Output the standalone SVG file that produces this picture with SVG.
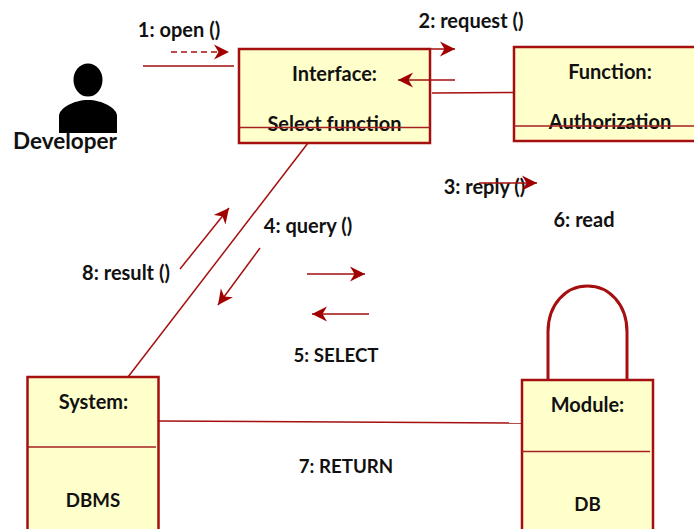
<svg xmlns="http://www.w3.org/2000/svg" width="694" height="529" viewBox="0 0 694 529">
<style>
.box{fill:#ffffcc;stroke:#a50f0f;stroke-width:2.5}
.div{stroke:#a52020;stroke-width:1.6;fill:none}
.ln{stroke:#a50f0f;stroke-width:1.5;fill:none}
.ah{fill:#a00000;stroke:none}
text{font-family:Lato,"Open Sans","Liberation Sans",sans-serif;font-weight:700;font-size:20px;fill:#111;text-anchor:middle}
.caps{font-size:18.700px}
</style>
<defs>
<marker id="arr" markerUnits="userSpaceOnUse" markerWidth="16" markerHeight="16" viewBox="0 0 16 16" refX="15" refY="8" orient="auto"><path class="ah" d="M0 0.5L15 8L0 15.5L4.5 8Z"/></marker>
</defs>
<rect width="694" height="529" fill="#fff"/>
<g id="developer">
<ellipse cx="88" cy="80" rx="14.500" ry="16.500" fill="#000"/>
<path d="M59 133V116C59 108 74 100 88 100C102 100 117 108 117 116V133Z" fill="#000"/>
<text x="65" y="149" style="font-size:22.500px">Developer</text>
</g>
<g id="interface">
<rect class="box" x="239" y="49" width="191" height="94"/>
<text x="334.500" y="81">Interface:</text>
<text x="334.500" y="131">Select function</text>
<path class="div" d="M239 127.500H430"/>
</g>
<g id="function">
<rect class="box" x="514" y="47" width="190" height="94"/>
<text x="610" y="79">Function:</text>
<text x="610" y="129">Authorization</text>
<path class="div" d="M514 126H694"/>
</g>
<g id="system">
<rect class="box" x="27.500" y="377" width="131" height="160"/>
<path class="div" d="M28 447H156"/>
<text x="93.500" y="409">System:</text>
<text class="caps" x="93" y="507">DBMS</text>
</g>
<g id="module">
<rect class="box" x="522" y="380" width="131" height="160"/>
<path class="div" d="M522 451.500H650"/>
<text x="587.500" y="412">Module:</text>
<text class="caps" x="587.500" y="511">DB</text>
</g>
<g id="labels">
<text x="179" y="37">1: open ()</text>
<text x="471" y="28">2: request ()</text>
<text x="484.500" y="194">3: reply ()</text>
<text x="308" y="233">4: query ()</text>
<text class="caps" x="336" y="362">5: SELECT</text>
<text x="584" y="227">6: read</text>
<text class="caps" x="346" y="473">7: RETURN</text>
<text x="126" y="280">8: result ()</text>
</g>
<g id="connectors">
<path class="ln" d="M143 66H234"/>
<path class="ln" d="M171 52H229" stroke-dasharray="6 4" marker-end="url(#arr)"/>
<path class="ln" d="M397 49H455" marker-end="url(#arr)"/>
<path class="ln" d="M455 80H398" marker-end="url(#arr)"/>
<path class="ln" d="M432 93L514 92.500"/>
<path class="ln" d="M479 183H537" marker-end="url(#arr)"/>
<path class="ln" d="M308 143L128 377"/>
<path class="ln" d="M180 269L229 208" marker-end="url(#arr)"/>
<path class="ln" d="M260 248L218 305" marker-end="url(#arr)"/>
<path class="ln" d="M307 274H365" marker-end="url(#arr)"/>
<path class="ln" d="M369 314H312" marker-end="url(#arr)"/>
<path class="ln" d="M158 421L522 423"/>
<path d="M548 380V332C548 304 566 286 587.500 286C609 286 627 304 627 332V380" fill="none" stroke="#a50f0f" stroke-width="3"/>
</g>
</svg>
